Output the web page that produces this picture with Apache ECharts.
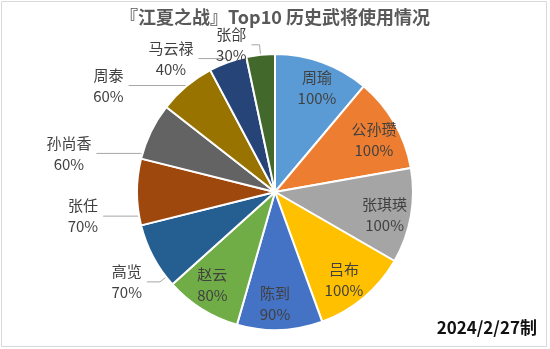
<!DOCTYPE html>
<html><head><meta charset="utf-8">
<script src="https://cdn.jsdelivr.net/npm/echarts@6/dist/echarts.min.js"></script>
<style>html,body{margin:0;padding:0;background:#fff}#c{width:550px;height:349px}</style>
</head><body><div id="c"></div>
<script>
const names = ['周瑜','公孙瓒','张琪瑛','吕布','陈到','赵云','高览','张任','孙尚香','周泰','马云禄','张郃'];
const values = [100,100,100,100,90,80,70,70,60,60,40,30];
const colors = ['#5B9BD5','#ED7D31','#A5A5A5','#FFC000','#4472C4','#70AD47','#255E91','#9E480E','#636363','#997300','#264478','#43682B'];
const insideNames = ['周瑜','公孙瓒','张琪瑛','吕布','陈到','赵云'];
const outerGroupA = ['周泰','马云禄','张郃'];
const outerGroupB = ['高览','张任'];
const outerGroupC = ['孙尚香'];
const titleText = '『江夏之战』Top10 历史武将使用情况';
const noteText = '2024/2/27制';

const font = '"Noto Sans CJK SC", "Noto Sans", sans-serif';
const chart = echarts.init(document.getElementById('c'));
const center = [275, 192];
const R = 138;
// leader line lengths per outside label [length, length2]
const lineLen = {'张郃': [10, 8], '马云禄': [4, 28], '周泰': [1, 57], '孙尚香': [2, 44], '张任': [1, 35], '高览': [8, 13]};

const baseData = names.map((n, i) => ({name: n, value: values[i], itemStyle: {color: colors[i]}}));
function labelData(showSet, outside) {
  return names.map((n, i) => {
    const show = showSet.indexOf(n) >= 0;
    const d = {name: n, value: values[i], itemStyle: {color: 'rgba(0,0,0,0)'},
      label: {show: show}, labelLine: {show: show && outside}};
    if (show && outside) { d.labelLine.length = lineLen[n][0]; d.labelLine.length2 = lineLen[n][1]; }
    return d;
  });
}
const labelStyle = {
  formatter: '{a|{b}}\n{a|{c}%}', color: '#404040',
  rich: {a: {fontFamily: font, fontSize: 15, color: '#404040', lineHeight: 21, align: 'center'}}
};
const lineStyle = {color: '#a6a6a6', width: 1};
function outerSeries(group, startAngle) {
  return {type: 'pie', center: center, radius: [0, R], startAngle: startAngle, clockwise: true, silent: true,
    avoidLabelOverlap: false, data: labelData(group, true),
    label: Object.assign({position: 'outside'}, labelStyle), labelLine: {lineStyle: lineStyle}};
}

chart.setOption({
  animation: false,
  backgroundColor: '#fff',
  title: {text: titleText, left: 'center', top: 3,
    textStyle: {fontFamily: font, fontSize: 18, fontWeight: 'bold', color: '#595959'}},
  graphic: [
    {type: 'rect', shape: {x: 1.5, y: 1.5, width: 545, height: 345}, style: {fill: 'none', stroke: '#d9d9d9', lineWidth: 1}, silent: true},
    {type: 'text', right: 13, bottom: 13, style: {text: noteText, font: 'bold 17px ' + font, fill: '#111'}}
  ],
  series: [
    {type: 'pie', center: center, radius: [0, R], startAngle: 90, clockwise: true,
     data: baseData, label: {show: false}, labelLine: {show: false},
     itemStyle: {borderColor: '#fff', borderWidth: 2}, silent: true},
    {type: 'pie', center: center, radius: [80, R], startAngle: 88, clockwise: true, silent: true,
     data: labelData(insideNames, false),
     label: Object.assign({position: 'inside'}, labelStyle)},
    outerSeries(outerGroupA, 90),
    outerSeries(outerGroupB, 100),
    outerSeries(outerGroupC, 100)
  ]
});
</script></body></html>
